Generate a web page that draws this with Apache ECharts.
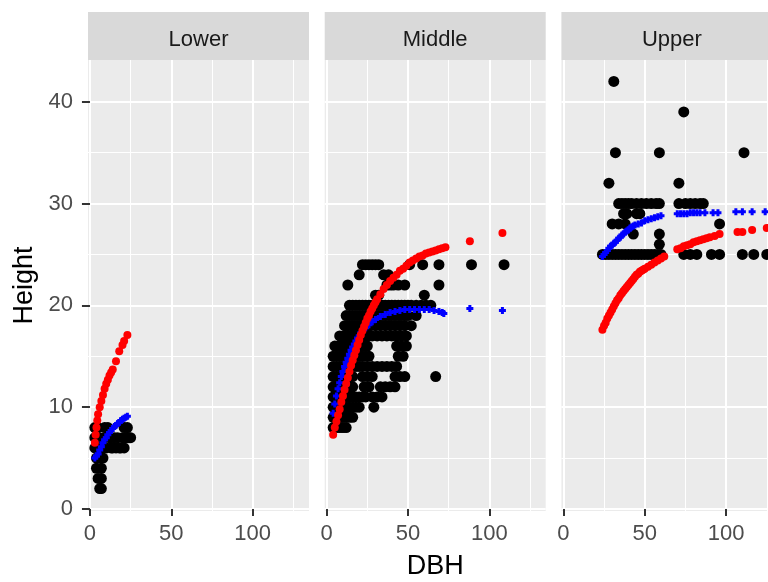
<!DOCTYPE html>
<html>
<head>
<meta charset="utf-8">
<script src="https://cdn.jsdelivr.net/npm/echarts@6/dist/echarts.min.js"></script>
<style>
  html, body { margin: 0; padding: 0; background: #ffffff; }
  #chart { width: 768px; height: 582px; }
</style>
</head>
<body>
<div id="chart"></div>
<script>
// Facet names and axis breaks
const panelNames = ['Lower', 'Middle', 'Upper'];
const xBreaks = [0, 50, 100];
const xMinorBreaks = [25, 75, 125];
const yBreaks = [0, 10, 20, 30, 40];
const yMinorBreaks = [5, 15, 25, 35];

// Observed tree heights [DBH, Height]
const lowerObserved = [
  [3,8],[3,7],[3,6],[4,5],[4,4],[5,3],[6,2],[7,2],[7,3],[5,6],[6,5],[6,7],[5,8],[7,4],
  [8,5],[8,6],[9,7],[9,8],[10,6],[11,8],[12,7],[13,6],[13,7],[14,6],[15,7],[16,6],[17,7],
  [18,6],[19,6],[20,7],[21,6],[21,8],[22,7],[23,7],[23,8],[24,7],[25,7]
];
const middleObserved = [
  [22,24],[24,24],[26,24],[28,24],[30,24],[32,24],[51,24],[59,24],[69,24],[89,24],[109,24],
  [20,23],[35,23],[38,23],
  [13,22],[37,22],[39,22],[41,22],[44,22],[48,22],[69,22],
  [30,21],[32,21],[60,21],
  [14,20],[16,20],[18,20],[20,20],[22,20],[24,20],[26,20],[28,20],[30,20],[32,20],[34,20],[36,20],
  [38,20],[40,20],[42,20],[44,20],[46,20],[48,20],[50,20],[52,20],[55,20],[58,20],[61,20],[64,20],
  [12,19],[14,19],[16,19],[18,19],[20,19],[22,19],[24,19],[26,19],[28,19],[30,19],[32,19],[34,19],
  [36,19],[38,19],[40,19],[42,19],[44,19],[46,19],[48,19],[50,19],[55,19],
  [11,18],[13,18],[15,18],[17,18],[19,18],[21,18],[23,18],[25,18],[27,18],[30,18],[33,18],[36,18],
  [39,18],[42,18],[45,18],[48,18],[52,18],
  [8,17],[10,17],[12,17],[14,17],[16,17],[18,17],[20,17],[22,17],[24,17],[26,17],[28,17],[31,17],
  [34,17],[37,17],[40,17],[43,17],[46,17],[49,17],
  [5,16],[7,16],[9,16],[11,16],[13,16],[15,16],[17,16],[19,16],[21,16],[23,16],[25,16],[43,16],[46,16],[49,16],
  [4,15],[6,15],[8,15],[10,15],[12,15],[14,15],[16,15],[18,15],[20,15],[22,15],[24,15],[26,15],[44,15],[47,15],
  [4,14],[6,14],[8,14],[10,14],[12,14],[14,14],[16,14],[18,14],[20,14],[22,14],[25,14],[28,14],[31,14],
  [34,14],[37,14],[40,14],[43,14],
  [4,13],[6,13],[8,13],[10,13],[12,13],[14,13],[16,13],[22,13],[25,13],[28,13],[42,13],[45,13],[48,13],[67,13],
  [4,12],[6,12],[8,12],[10,12],[12,12],[14,12],[16,12],[23,12],[26,12],[33,12],[36,12],[39,12],[42,12],
  [4,11],[6,11],[8,11],[10,11],[12,11],[14,11],[16,11],[18,11],[20,11],[22,11],[24,11],[28,11],[31,11],[34,11],
  [4,10],[6,10],[8,10],[10,10],[12,10],[14,10],[16,10],[18,10],[20,10],[29,10],
  [4,9],[6,9],[8,9],[10,9],[12,9],[14,9],[16,9],
  [4,8],[6,8],[8,8],[10,8],[12,8]
];
const upperObserved = [
  [31,42],[74,39],[32,35],[59,35],[111,35],[28,32],[71,32],
  [34,30],[36,30],[38,30],[40,30],[42,30],[45,30],[48,30],[51,30],[54,30],[57,30],[59,30],
  [71,30],[75,30],[78,30],[81,30],[84,30],[86,30],
  [37,29],[39,29],[45,29],[47,29],
  [30,28],[34,28],[38,28],[96,28],
  [43,27],[59,27],
  [59,26],
  [24,25],[26,25],[28,25],[30,25],[32,25],[34,25],[36,25],[38,25],[40,25],[42,25],[44,25],
  [46,25],[48,25],[50,25],[52,25],[54,25],[56,25],[58,25],[60,25],
  [74,25],[78,25],[82,25],[91,25],[96,25],[110,25],[117,25],[125,25]
];

// Predicted heights, model 1 (red)
const lowerPredA = [
  [3,6.5],[3.5,7.3],[4,8.0],[4.5,8.7],[5,9.3],[6,10.0],[7,10.6],[8,11.2],[9,11.8],[10,12.3],
  [11,12.7],[12,13.1],[13,13.4],[14,13.7],[16,14.5],[18,15.5],[20,16.1],[21,16.5],[23,17.1]
];
const middlePredA = [
  [4,7.3],[5,8.0],[6,8.6],[7,9.2],[8,9.8],[9,10.5],[10,11.1],[11,11.7],[12,12.3],[13,12.9],
  [14,13.5],[15,14.1],[16,14.6],[17,15.1],[18,15.6],[19,16.1],[20,16.6],[21,17.1],[22,17.5],
  [23,17.9],[24,18.3],[25,18.7],[26,19.0],[27,19.4],[28,19.7],[29,20.0],[30,20.3],[31,20.6],
  [33,21.1],[35,21.6],[37,22.0],[39,22.4],[41,22.7],[43,23.0],[45,23.4],[47,23.6],[49,23.9],
  [51,24.2],[53,24.4],[55,24.6],[57,24.8],[59,24.9],[61,25.1],[63,25.2],[65,25.3],[67,25.4],
  [69,25.5],[71,25.6],[73,25.7],[88,26.3],[108,27.1]
];
const upperPredA = [
  [24,17.6],[25,18.0],[26,18.3],[27,18.7],[28,19.0],[29,19.3],[30,19.6],[31,19.9],[32,20.2],
  [33,20.5],[34,20.7],[35,21.0],[36,21.2],[37,21.4],[38,21.6],[39,21.8],[40,22.0],[41,22.2],
  [42,22.4],[43,22.6],[44,22.8],[45,23.0],[46,23.1],[47,23.3],[48,23.4],[49,23.5],[50,23.6],
  [52,23.8],[54,24.0],[56,24.2],[58,24.4],[60,24.6],[62,24.8],
  [70,25.5],[72,25.6],[74,25.8],[76,25.9],[78,26.0],[80,26.2],[82,26.3],[84,26.4],[86,26.5],
  [88,26.6],[90,26.7],[93,26.8],[96,27.0],[107,27.2],[110,27.2],[116,27.4],[125,27.6]
];

// Predicted heights, model 2 (blue)
const lowerPredB = [
  [3,5.0],[4,5.2],[5,5.4],[6,5.8],[7,6.1],[8,6.5],[9,6.8],[10,7.0],[11,7.3],[12,7.5],
  [13,7.7],[14,7.9],[15,8.1],[16,8.2],[17,8.4],[18,8.5],[19,8.7],[20,8.8],[21,8.9],[22,9.0],[23,9.1]
];
const middlePredB = [
  [4,9.4],[5,10.3],[6,11.1],[7,11.8],[8,12.4],[9,13.0],[10,13.5],[11,14.0],[12,14.4],[13,14.8],
  [14,15.2],[15,15.6],[16,15.9],[17,16.2],[18,16.5],[19,16.8],[20,17.0],[21,17.3],[22,17.5],
  [24,17.8],[26,18.1],[28,18.4],[30,18.6],[33,18.9],[36,19.1],[39,19.3],[42,19.4],[45,19.5],
  [48,19.6],[51,19.6],[54,19.6],[57,19.6],[60,19.6],[63,19.6],[66,19.5],[69,19.4],[71,19.3],
  [72,19.2],[88,19.7],[108,19.5]
];
const upperPredB = [
  [24,24.8],[25,25.0],[26,25.2],[27,25.4],[28,25.6],[29,25.8],[30,25.9],[31,26.1],[32,26.2],
  [33,26.4],[34,26.6],[35,26.7],[36,26.9],[37,27.0],[38,27.2],[39,27.3],[40,27.4],[41,27.6],
  [42,27.7],[43,27.8],[44,27.9],[46,28.0],[48,28.1],[50,28.3],[52,28.4],[54,28.5],[56,28.6],
  [58,28.7],[60,28.8],
  [70,29.0],[72,29.0],[74,29.0],[76,29.0],[78,29.1],[80,29.1],[82,29.1],[84,29.1],[87,29.1],
  [92,29.1],[95,29.1],[106,29.2],[110,29.2],[116,29.2],[124,29.2]
];

const observedByPanel = [lowerObserved, middleObserved, upperObserved];
const predAByPanel = [lowerPredA, middlePredA, upperPredA];
const predBByPanel = [lowerPredB, middlePredB, upperPredB];

// Layout
const FONT = '"Liberation Sans", Arial, sans-serif';
const PANEL_LEFTS = [88, 324.7, 561.4];
const PANEL_W = 221;
const PANEL_TOP = 60;
const PANEL_H = 451;
const STRIP_TOP = 12;
const X_LIMITS = [-1.2, 134.6];
const Y_LIMITS = [-0.2, 44.1];
const PLUS = 'path://M2,0H5V2H7V5H5V7H2V5H0V2H2Z';

const grids = PANEL_LEFTS.map(left => ({
  left: left, top: PANEL_TOP, width: PANEL_W, height: PANEL_H,
  show: true, backgroundColor: '#EBEBEB', borderWidth: 0,
  containLabel: false, outerBoundsMode: 'none'
}));

const xAxes = [];
const yAxes = [];
// major axes (indices 0..2)
PANEL_LEFTS.forEach((_, i) => {
  xAxes.push({
    type: 'value', gridIndex: i, min: X_LIMITS[0], max: X_LIMITS[1], position: 'bottom',
    name: i === 1 ? 'DBH' : '', nameLocation: 'middle', nameGap: 42,
    nameTextStyle: { fontFamily: FONT, fontSize: 27, color: '#000000' },
    axisLine: { show: false },
    axisTick: { show: true, customValues: xBreaks, length: 7, lineStyle: { color: '#333333', width: 2 } },
    axisLabel: { show: true, customValues: xBreaks, margin: 12, fontFamily: FONT, fontSize: 22, color: '#4D4D4D' },
    splitLine: { show: true, lineStyle: { color: '#FFFFFF', width: 2 } },
    minorTick: { show: false }, minorSplitLine: { show: false }
  });
  yAxes.push({
    type: 'value', gridIndex: i, min: Y_LIMITS[0], max: Y_LIMITS[1], position: 'left',
    name: i === 0 ? 'Height' : '', nameLocation: 'middle', nameGap: 50, nameRotate: 90,
    nameTextStyle: { fontFamily: FONT, fontSize: 27, color: '#000000' },
    axisLine: { show: false },
    axisTick: { show: i === 0, customValues: yBreaks, length: 8, lineStyle: { color: '#333333', width: 2 } },
    axisLabel: { show: i === 0, customValues: yBreaks, margin: 15, fontFamily: FONT, fontSize: 22, color: '#4D4D4D' },
    splitLine: { show: true, lineStyle: { color: '#FFFFFF', width: 2 } },
    minorTick: { show: false }, minorSplitLine: { show: false }
  });
});
// minor grid axes (indices 3..5)
PANEL_LEFTS.forEach((_, i) => {
  xAxes.push({
    type: 'value', gridIndex: i, min: X_LIMITS[0], max: X_LIMITS[1], position: 'bottom',
    axisLine: { show: false },
    axisTick: { show: false, customValues: xMinorBreaks },
    axisLabel: { show: false, customValues: xMinorBreaks },
    splitLine: { show: true, lineStyle: { color: '#FFFFFF', width: 1 } }
  });
  yAxes.push({
    type: 'value', gridIndex: i, min: Y_LIMITS[0], max: Y_LIMITS[1], position: 'left',
    axisLine: { show: false },
    axisTick: { show: false, customValues: yMinorBreaks },
    axisLabel: { show: false, customValues: yMinorBreaks },
    splitLine: { show: true, lineStyle: { color: '#FFFFFF', width: 1 } }
  });
});

const series = [];
PANEL_LEFTS.forEach((_, i) => {
  series.push({
    type: 'scatter', xAxisIndex: i, yAxisIndex: i, data: observedByPanel[i],
    symbol: 'circle', symbolSize: 11, itemStyle: { color: '#000000', opacity: 1 }, z: 2
  });
  series.push({
    type: 'scatter', xAxisIndex: i, yAxisIndex: i, data: predBByPanel[i],
    symbol: PLUS, symbolSize: 7, itemStyle: { color: '#0000FF', opacity: 1 }, z: 3
  });
  series.push({
    type: 'scatter', xAxisIndex: i, yAxisIndex: i, data: predAByPanel[i],
    symbol: 'circle', symbolSize: 8, itemStyle: { color: '#FF0000', opacity: 1 }, z: 4
  });
});

// facet strips
const strips = panelNames.map((name, i) => ({
  type: 'group', x: PANEL_LEFTS[i], y: STRIP_TOP, silent: true,
  children: [
    { type: 'rect', shape: { x: 0, y: 0, width: PANEL_W, height: PANEL_TOP - STRIP_TOP },
      style: { fill: '#D9D9D9' } },
    { type: 'text', x: PANEL_W / 2, y: (PANEL_TOP - STRIP_TOP) / 2 + 4,
      style: { text: name, fill: '#1A1A1A', fontFamily: FONT, fontSize: 22,
               textAlign: 'center', textVerticalAlign: 'middle' } }
  ]
}));

const chart = echarts.init(document.getElementById('chart'), null, { renderer: 'canvas' });
chart.setOption({
  backgroundColor: '#FFFFFF',
  animation: false,
  grid: grids,
  xAxis: xAxes,
  yAxis: yAxes,
  series: series,
  graphic: strips
});
</script>
</body>
</html>
